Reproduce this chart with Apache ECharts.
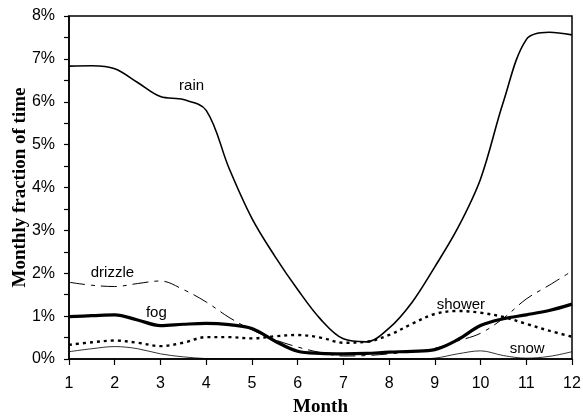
<!DOCTYPE html>
<html>
<head>
<meta charset="utf-8">
<script src="https://cdn.jsdelivr.net/npm/echarts@6/dist/echarts.min.js"></script>
<style>html,body{margin:0;padding:0;background:#fff}#c{width:583px;height:416px}</style>
</head>
<body>
<div id="c"></div>
<script>
// sample positions (month)
var months = [1,1.5,2,2.5,3,3.5,4,4.5,5,5.5,6,6.5,7,7.5,8,8.5,9,9.5,10,10.5,11,11.5,12];
// monthly fraction of time (%)
var rain    = [6.83,6.84,6.77,6.45,6.12,6.05,5.80,4.45,3.28,2.40,1.62,0.93,0.47,0.40,0.72,1.32,2.15,3.05,4.20,6.00,7.45,7.62,7.56];
var drizzle = [1.79,1.72,1.69,1.76,1.82,1.62,1.33,0.97,0.68,0.45,0.28,0.15,0.07,0.08,0.12,0.17,0.25,0.42,0.60,0.95,1.40,1.72,2.05];
var fog     = [0.99,1.01,1.03,0.91,0.78,0.81,0.83,0.80,0.71,0.42,0.18,0.13,0.12,0.13,0.16,0.18,0.22,0.45,0.78,0.94,1.03,1.13,1.28];
var shower  = [0.33,0.39,0.43,0.38,0.30,0.38,0.51,0.51,0.48,0.53,0.56,0.50,0.38,0.40,0.56,0.82,1.05,1.12,1.08,0.98,0.82,0.66,0.52];
var snow    = [0.17,0.24,0.29,0.24,0.12,0.05,0.01,0.00,0.00,0.00,0.00,0.00,0.00,0.00,0.00,0.00,0.02,0.12,0.19,0.08,0.02,0.06,0.17];
// labels: [text, month, value]
var seriesLabels = {
  rain: ['rain', 3.68, 6.36],
  drizzle: ['drizzle', 1.95, 2.02],
  fog: ['fog', 2.91, 1.08],
  shower: ['shower', 9.57, 1.27],
  snow: ['snow', 11.02, 0.23]
};
var yTicks = [0,1,2,3,4,5,6,7,8];

function pairs(v){ return months.map(function(m,i){ return [m, v[i]]; }); }
function lbl(key){
  var l = seriesLabels[key];
  return {
    symbol: 'circle', symbolSize: 0, silent: true,
    data: [{ coord: [l[1], l[2]], value: 0,
      label: { show: true, position: 'inside', formatter: l[0], color: '#000',
               fontFamily: 'Liberation Sans, Arial, sans-serif', fontSize: 15 } }]
  };
}
function mk(name, data, width, type){
  return {
    name: name, type: 'line', data: pairs(data), smooth: 0.35, showSymbol: false,
    symbol: 'none', silent: true,
    lineStyle: { color: '#000', width: width, type: type },
    markPoint: lbl(name), z: 3
  };
}

var chart = echarts.init(document.getElementById('c'), null, { renderer: 'canvas' });
chart.setOption({
  animation: false,
  backgroundColor: '#fff',
  grid: { left: 69, right: 11, top: 16, bottom: 57, containLabel: false, outerBoundsMode: 'none',
          show: true, borderColor: '#000', borderWidth: 1.5 },
  xAxis: {
    type: 'value', min: 1, max: 12, interval: 1,
    name: 'Month', nameLocation: 'middle', nameGap: 39,
    nameTextStyle: { fontFamily: 'Liberation Serif, Times New Roman, serif', fontWeight: 'bold', fontSize: 19, color: '#000' },
    axisLine: { lineStyle: { color: '#000', width: 1.5 } },
    axisTick: { show: true, inside: false, length: 6, lineStyle: { color: '#000', width: 1.2 } },
    axisLabel: { color: '#000', fontSize: 16, margin: 17, fontFamily: 'Liberation Sans, Arial, sans-serif' },
    splitLine: { show: false }
  },
  yAxis: {
    type: 'value', min: yTicks[0], max: yTicks[yTicks.length-1], interval: 1,
    name: 'Monthly fraction of time', nameLocation: 'middle', nameGap: 39, nameMoveOverlap: false,
    nameTextStyle: { fontFamily: 'Liberation Serif, Times New Roman, serif', fontWeight: 'bold', fontSize: 19, color: '#000' },
    axisLine: { show: true, lineStyle: { color: '#000', width: 1.5 } },
    axisTick: { show: true, inside: false, length: 5, lineStyle: { color: '#000', width: 1.2 } },
    minorTick: { show: true, splitNumber: 2, length: 5, lineStyle: { color: '#000', width: 1.2 } },
    axisLabel: { color: '#000', fontSize: 16, margin: 14, formatter: '{value}%', fontFamily: 'Liberation Sans, Arial, sans-serif' },
    splitLine: { show: false }
  },
  series: [
    mk('rain', rain, 1.6, 'solid'),
    mk('drizzle', drizzle, 1, [16,6,4,6]),
    mk('fog', fog, 3.2, 'solid'),
    mk('shower', shower, 2.4, [3,4]),
    mk('snow', snow, 0.8, 'solid')
  ]
});
</script>
</body>
</html>
